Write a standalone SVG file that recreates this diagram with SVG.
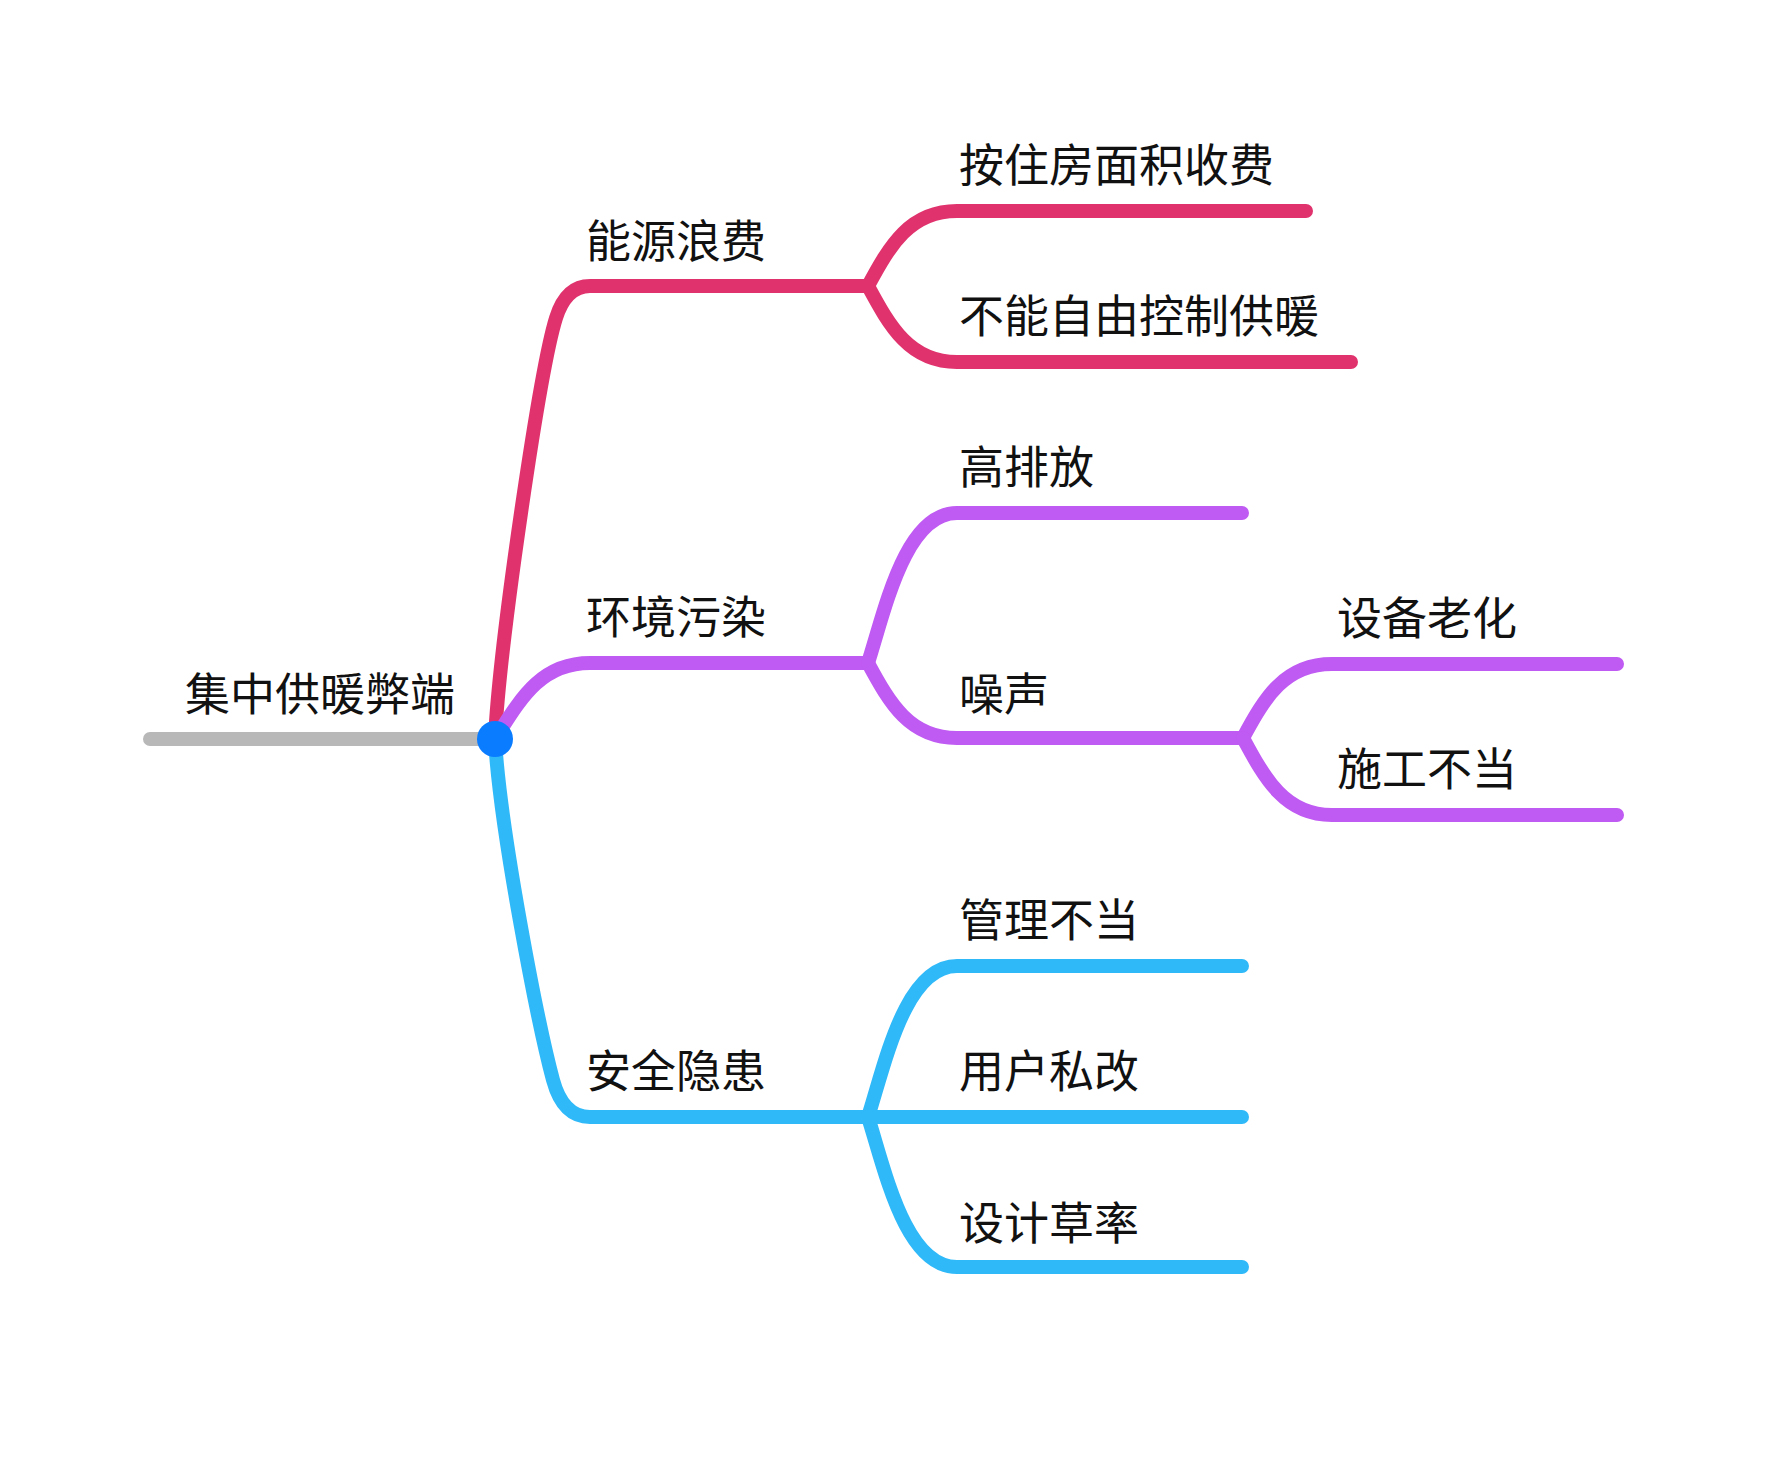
<svg xmlns="http://www.w3.org/2000/svg" width="1770" height="1478" viewBox="0 0 1770 1478">
<style>
.t{font-family:"Noto Sans CJK SC","Noto Sans",sans-serif;font-size:45px;fill:#111;}
.l{fill:none;stroke-width:14;stroke-linecap:round;stroke-linejoin:round;}
.red{stroke:#E0336D;}
.pur{stroke:#BF5AF2;}
.blu{stroke:#30B9F9;}
.gry{stroke:#B8B8B8;}
</style>
<rect width="1770" height="1478" fill="#fff"/>
<g id="connectors">
<path class="l gry" d="M150 739 H495"/>
<path class="l red" d="M495 738 C500 640 540 369 556 318 Q566 286 590 286 H868"/>
<path class="l pur" d="M495 739 C520 700 540 663 590 663 H868"/>
<path class="l blu" d="M495 739 C500 830 538 1024 553 1080 Q563 1117 590 1117 H868"/>
<path class="l red" d="M868 286 C890 245 910 211 957 211 H1306"/>
<path class="l red" d="M868 286 C890 327 910 362 957 362 H1351"/>
<path class="l pur" d="M868 663 C885 610 905 513 957 513 H1242"/>
<path class="l pur" d="M868 663 C890 704 910 738 957 738 H1243"/>
<path class="l pur" d="M1243 738 C1265 697 1285 664 1332 664 H1617"/>
<path class="l pur" d="M1243 738 C1265 779 1285 815 1332 815 H1617"/>
<path class="l blu" d="M868 1117 C885 1064 905 966 957 966 H1242"/>
<path class="l blu" d="M868 1117 H1242"/>
<path class="l blu" d="M868 1117 C885 1170 905 1267 957 1267 H1242"/>
</g>
<g id="root"><circle cx="495" cy="739" r="18" fill="#0A7CFF"/><text class="t" x="185" y="711">集中供暖弊端</text></g>
<g id="n1"><text class="t" x="586" y="258">能源浪费</text></g>
<g id="n2"><text class="t" x="586" y="634">环境污染</text></g>
<g id="n3"><text class="t" x="586" y="1088">安全隐患</text></g>
<g id="n11"><text class="t" x="959" y="182">按住房面积收费</text></g>
<g id="n12"><text class="t" x="959" y="333">不能自由控制供暖</text></g>
<g id="n21"><text class="t" x="959" y="484">高排放</text></g>
<g id="n22"><text class="t" x="959" y="711">噪声</text></g>
<g id="n221"><text class="t" x="1337" y="635">设备老化</text></g>
<g id="n222"><text class="t" x="1337" y="786">施工不当</text></g>
<g id="n31"><text class="t" x="959" y="937">管理不当</text></g>
<g id="n32"><text class="t" x="959" y="1088">用户私改</text></g>
<g id="n33"><text class="t" x="959" y="1240">设计草率</text></g>
</svg>
